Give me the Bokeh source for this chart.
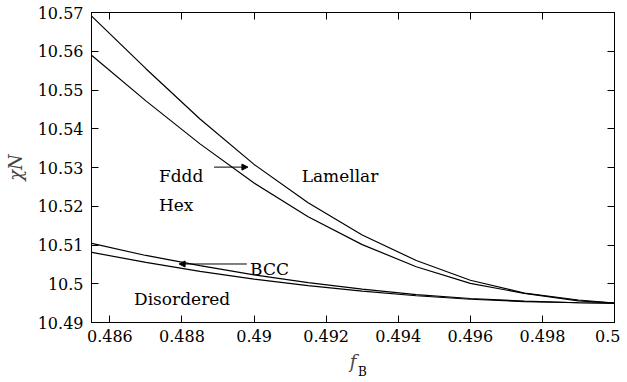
from bokeh.plotting import figure
from bokeh.layouts import column
from bokeh.models import (Range1d, FixedTicker, CustomJSTickFormatter, LinearAxis,
                          Label, Arrow, NormalHead, Div)
from bokeh.embed import file_html
from bokeh.resources import INLINE

# Phase boundaries (chi*N versus f_B)
f_grid = [0.4855, 0.487, 0.4885, 0.490, 0.4915, 0.493, 0.4945, 0.496, 0.4975, 0.499, 0.5]
chi_fddd_lam = [10.5690, 10.5555, 10.5425, 10.5308, 10.5209, 10.5126, 10.5060, 10.5009, 10.4976, 10.4958, 10.4950]
chi_hex_fddd = [10.5589, 10.5472, 10.5361, 10.5260, 10.5173, 10.5101, 10.5044, 10.5001, 10.4975, 10.4956, 10.4950]
chi_bcc_hex = [10.5104, 10.5073, 10.5047, 10.5023, 10.5003, 10.4986, 10.4972, 10.4962, 10.4955, 10.4951, 10.4950]
chi_dis_bcc = [10.5081, 10.5055, 10.5032, 10.5012, 10.4995, 10.4981, 10.4969, 10.4960, 10.4954, 10.4951, 10.4950]

x_ticks = [0.486, 0.488, 0.490, 0.492, 0.494, 0.496, 0.498, 0.500]
y_ticks = [10.49, 10.50, 10.51, 10.52, 10.53, 10.54, 10.55, 10.56, 10.57]

X0, X1 = 0.48549, 0.5
Y0, Y1 = 10.49, 10.57
FONT = "DejaVu Serif"

p = figure(width=620, height=374, output_backend="svg", toolbar_location=None,
           x_range=Range1d(X0, X1), y_range=Range1d(Y0, Y1),
           min_border_left=91, min_border_right=6, min_border_top=12, min_border_bottom=52)
p.background_fill_color = "white"
p.border_fill_color = "white"
p.outline_line_color = "black"
p.outline_line_width = 1
p.grid.visible = False

xb = p.below[0]
yl = p.left[0]

fmt = CustomJSTickFormatter(code="return String(parseFloat(tick.toFixed(3)));")

def style_axis(ax, ticks, labels=True):
    ax.ticker = FixedTicker(ticks=ticks)
    ax.formatter = fmt
    ax.major_tick_in = 7
    ax.major_tick_out = 0
    ax.minor_tick_line_color = None
    ax.axis_line_color = "black"
    ax.major_tick_line_color = "black"
    ax.major_label_text_font = FONT
    ax.major_label_text_font_size = "16px"
    ax.major_label_text_color = "black"
    if not labels:
        ax.major_label_text_font_size = "0px"
        ax.major_label_standoff = 0

style_axis(xb, x_ticks)
style_axis(yl, y_ticks)
xb.major_label_standoff = 7
yl.major_label_standoff = 8

xb.axis_label = "f"
xb.axis_label_text_font = FONT
xb.axis_label_text_font_style = "italic"
xb.axis_label_text_font_size = "18px"
xb.axis_label_standoff = 6

yl.axis_label = "χN"
yl.axis_label_text_font = FONT
yl.axis_label_text_font_style = "italic"
yl.axis_label_text_font_size = "18px"
yl.axis_label_standoff = 9

# mirrored axes: inward ticks on the top and right edges, without visible labels
top = LinearAxis()
style_axis(top, x_ticks, labels=False)
p.add_layout(top, "above")
right = LinearAxis()
style_axis(right, y_ticks, labels=False)
p.add_layout(right, "right")

for ys in (chi_fddd_lam, chi_hex_fddd, chi_bcc_hex, chi_dis_bcc):
    p.line(f_grid, ys, line_color="black", line_width=1.2)

def lab(x, y, t, size="17px"):
    p.add_layout(Label(x=x, y=y, text=t, text_font=FONT, text_font_size=size,
                       text_color="black", text_baseline="alphabetic", text_align="left"))

lab(0.48736, 10.5279, "Fddd")
lab(0.49132, 10.5279, "Lamellar")
lab(0.48736, 10.5202, "Hex")
lab(0.48989, 10.5039, "BCC")
lab(0.48667, 10.4961, "Disordered")

p.add_layout(Arrow(x_start=0.48889, y_start=10.5301, x_end=0.48983, y_end=10.5301,
                   line_width=1, line_color="black",
                   end=NormalHead(size=6, fill_color="black", line_color="black")))
p.add_layout(Arrow(x_start=0.48980, y_start=10.5051, x_end=0.48792, y_end=10.5051,
                   line_width=1, line_color="black",
                   end=NormalHead(size=6, fill_color="black", line_color="black")))

# subscript "B" of the x-axis title f_B
sub_b = Div(
    text=('<div style="padding-left:358px; line-height:12px; font-size:12px; '
          'font-family:\'DejaVu Serif\'; color:black;">B</div>'),
    width=620, height=14, margin=(-10, 0, 0, 0))

layout = column(p, sub_b, spacing=0)
open("out.html", "w").write(file_html(layout, INLINE))
